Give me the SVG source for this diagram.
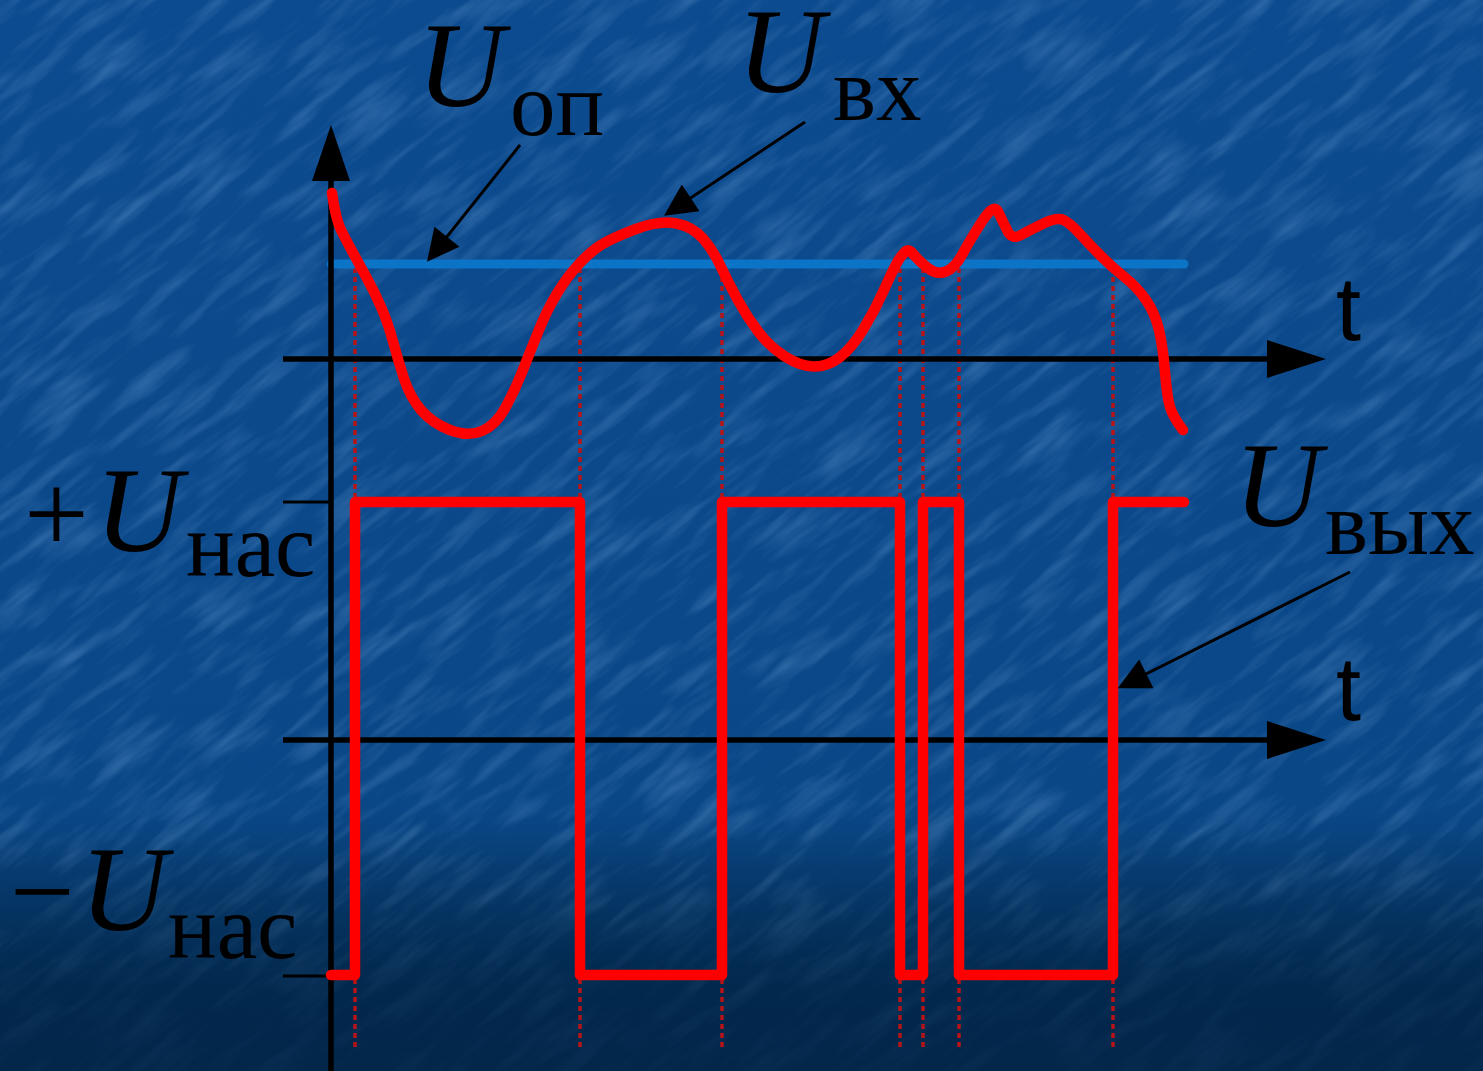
<svg xmlns="http://www.w3.org/2000/svg" width="1483" height="1071" viewBox="0 0 1483 1071">
<defs>
<linearGradient id="bg" x1="0" y1="0" x2="0" y2="1">
<stop offset="0" stop-color="#0c4b8f"/>
<stop offset="0.75" stop-color="#0a4787"/>
<stop offset="0.86" stop-color="#063a6c"/>
<stop offset="0.93" stop-color="#032c54"/>
<stop offset="1" stop-color="#02284a"/>
</linearGradient>
<linearGradient id="shade" x1="0" y1="0" x2="0" y2="1">
<stop offset="0" stop-color="#02264a" stop-opacity="0"/>
<stop offset="0.78" stop-color="#02264a" stop-opacity="0"/>
<stop offset="0.92" stop-color="#02264a" stop-opacity="0.7"/>
<stop offset="1" stop-color="#02264a" stop-opacity="0.8"/>
</linearGradient>
<filter id="tex" x="0" y="0" width="1" height="1">
<feTurbulence type="fractalNoise" baseFrequency="0.012 0.07" numOctaves="3" seed="4"/>
<feColorMatrix type="matrix" values="0 0 0 0 0.3  0 0 0 0 0.55  0 0 0 0 0.9  0.55 0 0 0 -0.25"/>
</filter>
<marker id="ah" viewBox="0 0 10 10" refX="8.5" refY="5" markerUnits="userSpaceOnUse" markerWidth="46" markerHeight="32" orient="auto">
<path d="M0,0 L10,5 L0,10 z" fill="#000"/>
</marker>
<style>
.ax{stroke:#000;stroke-width:5.5;fill:none}
.tick{stroke:#000;stroke-width:2.8}
.ann{stroke:#000;stroke-width:3;fill:none}
.dot{stroke:#b81418;stroke-width:3.5;stroke-dasharray:5 4;fill:none}
.sig{stroke:#ff0000;stroke-width:10.5;fill:none;stroke-linejoin:round;stroke-linecap:round}
.U{font-family:"Liberation Serif","Times New Roman",serif;font-style:italic;font-size:121px;fill:#000}
.sub{font-family:"Liberation Serif","Times New Roman",serif;font-size:91px;fill:#000}
.sgn{font-family:"Liberation Serif","Times New Roman",serif;font-size:115px;fill:#000}
.t{font-family:"Liberation Sans",Arial,sans-serif;font-size:90px;fill:#000}
</style>
</defs>
<g id="background">
<rect width="1483" height="1071" fill="url(#bg)"/>
<g transform="rotate(-38 741 535)">
<rect x="-500" y="-500" width="2483" height="2071" filter="url(#tex)"/>
</g>
<rect width="1483" height="1071" fill="url(#shade)"/>
</g>
<g id="dotted-lines">
<line class="dot" x1="355" y1="268" x2="355" y2="1047"/>
<line class="dot" x1="580" y1="268" x2="580" y2="1047"/>
<line class="dot" x1="722" y1="268" x2="722" y2="1047"/>
<line class="dot" x1="900" y1="268" x2="900" y2="1047"/>
<line class="dot" x1="923" y1="268" x2="923" y2="1047"/>
<line class="dot" x1="959" y1="268" x2="959" y2="1047"/>
<line class="dot" x1="1113" y1="268" x2="1113" y2="1047"/>
</g>
<g id="reference-line">
<line x1="331" y1="264" x2="1184" y2="264" stroke="#0b74c6" stroke-width="9" stroke-linecap="round"/>
</g>
<g id="axes">
<line class="ax" x1="331" y1="178" x2="331" y2="1071"/>
<polygon points="331,125 312,181 350,181" fill="#000"/>
<line class="ax" x1="283" y1="359" x2="1270" y2="359"/>
<polygon points="1326,359 1267,340 1267,378" fill="#000"/>
<line class="ax" x1="283" y1="740" x2="1270" y2="740"/>
<polygon points="1326,740 1267,721 1267,759" fill="#000"/>
<line class="tick" x1="283" y1="502" x2="331" y2="502"/>
<line class="tick" x1="283" y1="976" x2="331" y2="976"/>
</g>
<g id="input-signal">
<path class="sig" d="M332,193 Q336,220 341,230 Q346,240 352,251 Q358,262 366.5,277.5 Q375,293 381.5,308 Q388,323 393,341.5 Q398,360 404,378.5 Q410,397 421,410 Q432,423 450,430 Q468,437 482,431 Q496,425 505.5,407.5 Q515,390 522.5,371 Q530,352 538.5,331 Q547,310 557,293.5 Q567,277 578.5,264.5 Q590,252 601,245 Q612,238 636,229 Q660,220 676.5,223.5 Q693,227 703,238.5 Q713,250 720.5,266 Q728,282 737.5,299.5 Q747,317 758.5,332 Q770,347 785,356.5 Q800,366 813.5,366.5 Q827,367 839.5,357.5 Q852,348 863.5,329 Q875,310 883.5,291 Q892,272 896,264.5 Q900,257 904,253 Q908,247 914,255 Q920,262 928.5,268.5 Q937,275 946,271.5 Q955,268 962.5,254 Q970,240 982,221.5 Q994,203 998,211.5 Q1003,222 1007.5,231 Q1012,240 1021,235 Q1030,230 1043.5,223.5 Q1057,217 1063.5,220 Q1070,223 1080,234 Q1090,245 1101.5,256.5 Q1113,268 1125,277.5 Q1137,287 1146,300 Q1155,313 1159,330 Q1163,347 1165,372 Q1167,397 1170,407 Q1173,417 1183,430"/>
</g>
<g id="output-signal">
<polyline class="sig" points="331,975 355,975 355,502 580,502 580,975 722,975 722,502 900,502 900,975 923,975 923,502 959,502 959,975 1113,975 1113,502 1184,502"/>
</g>
<g id="label-Uop">
<text class="U" x="417" y="106">U</text>
<text class="sub" x="510" y="135">оп</text>
</g>
<g id="label-Uvx">
<text class="U" x="737" y="92">U</text>
<text class="sub" x="833" y="120">вх</text>
</g>
<g id="label-plusUnas">
<text class="sgn" x="24" y="552">+</text>
<text class="U" x="95" y="551">U</text>
<text class="sub" x="186" y="576">нас</text>
</g>
<g id="label-minusUnas">
<text class="sgn" x="10" y="930">−</text>
<text class="U" x="80" y="930">U</text>
<text class="sub" x="168" y="958">нас</text>
</g>
<g id="label-Uvyx">
<text class="U" x="1234" y="526">U</text>
<text class="sub" x="1325" y="554">вых</text>
</g>
<g id="label-t">
<text class="t" x="1336" y="340">t</text>
<text class="t" x="1336" y="720">t</text>
</g>
<g id="connectors">
<line class="ann" x1="520" y1="145" x2="430" y2="258" marker-end="url(#ah)"/>
<line class="ann" x1="805" y1="122" x2="668" y2="213" marker-end="url(#ah)"/>
<line class="ann" x1="1350" y1="572" x2="1122" y2="686" marker-end="url(#ah)"/>
</g>
</svg>
